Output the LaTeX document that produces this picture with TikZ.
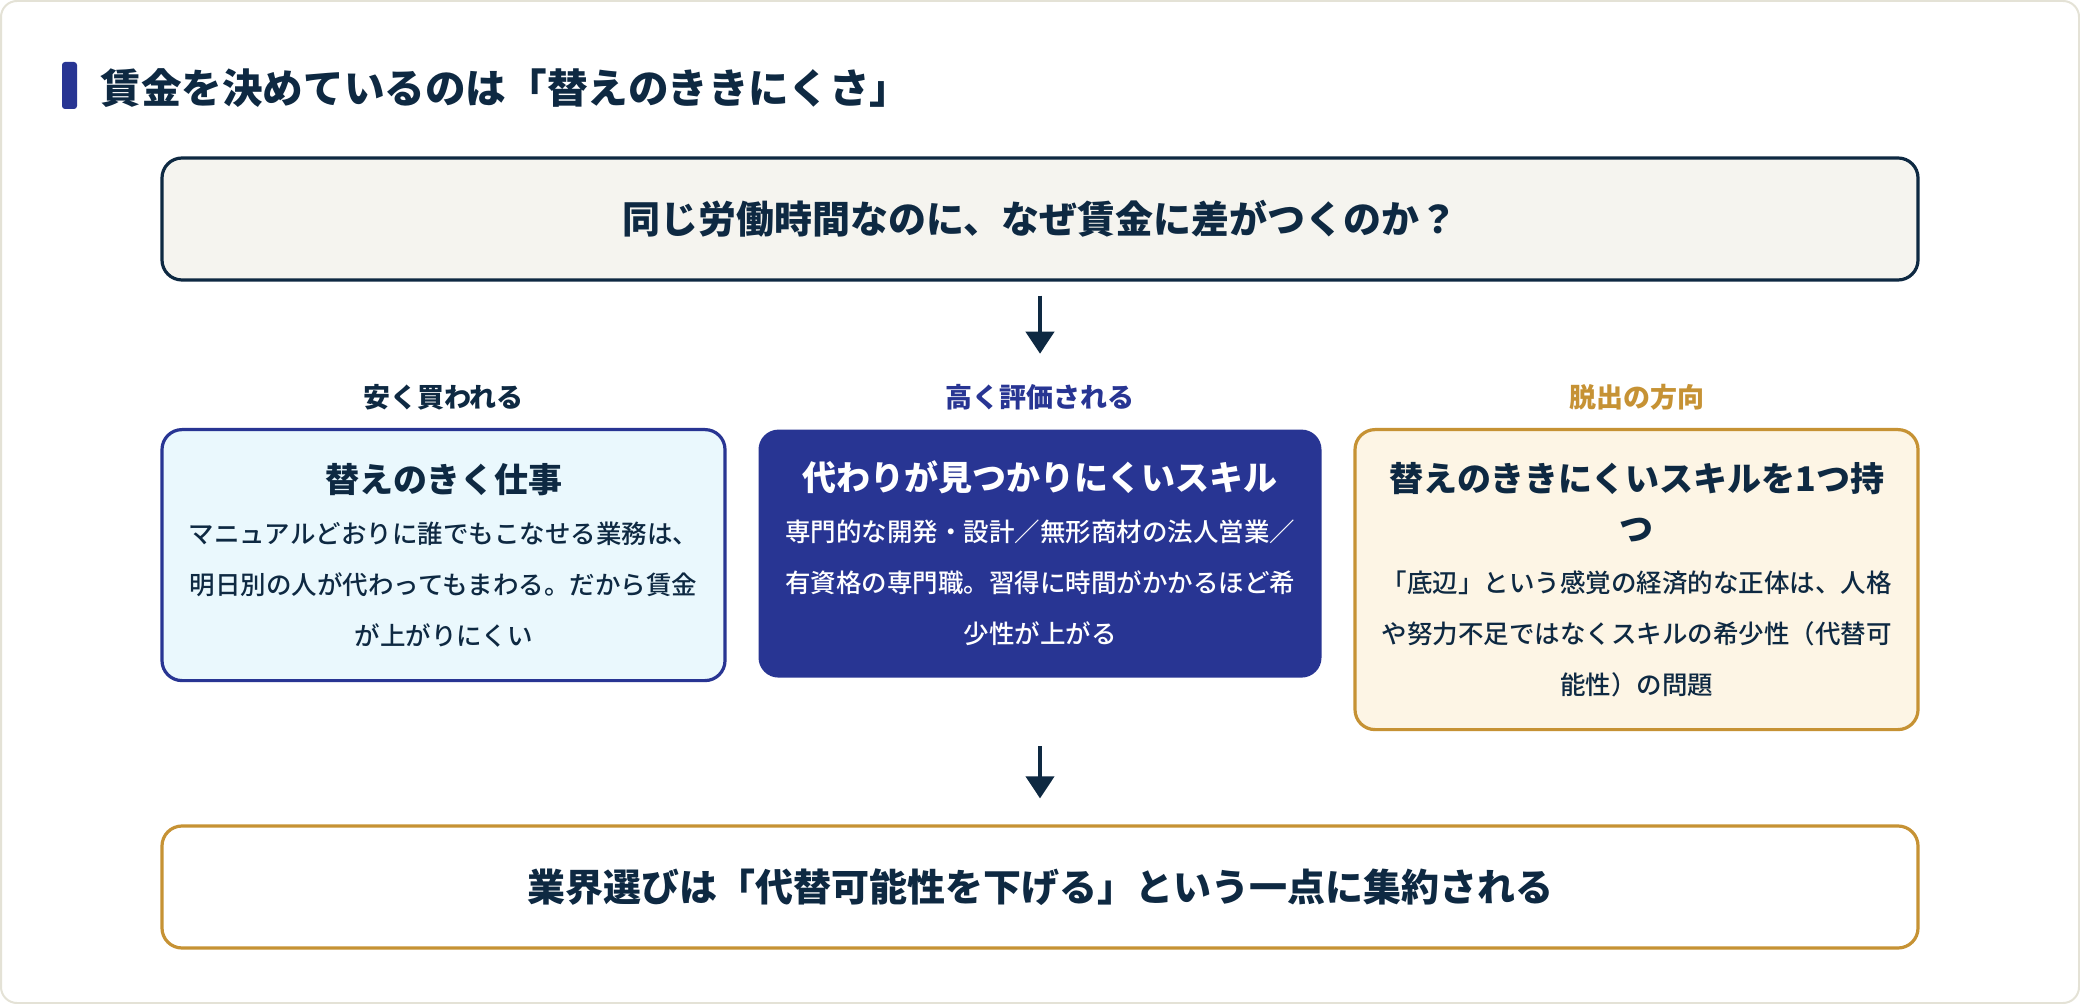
\documentclass[tikz,border=0pt]{standalone}
\usepackage{fontspec}
\setmainfont{Noto Sans CJK JP}
\newfontfamily\medfont{Noto Sans CJK JP Medium}
\usetikzlibrary{arrows.meta}

\definecolor{inknavy}{RGB}{14,41,66}
\definecolor{deepblue}{RGB}{40,53,147}
\definecolor{gold}{RGB}{198,146,52}
\definecolor{skyfill}{RGB}{234,248,253}
\definecolor{creamfill}{RGB}{253,245,229}
\definecolor{paperfill}{RGB}{245,244,239}
\definecolor{framegray}{RGB}{228,226,214}

\newcommand\cardhead{\fontsize{17pt}{25pt}\selectfont\bfseries}

\begin{document}
\begin{tikzpicture}[x=0.5pt, y=-0.5pt, line cap=round, line join=round,
	>={Triangle[length=11pt,width=14pt]},
	wide/.style={rounded corners=10pt, line width=1.6pt, minimum width=878pt, minimum height=61pt,
		font=\fontsize{19pt}{23pt}\selectfont\bfseries, text=inknavy},
	card/.style={rounded corners=10pt, line width=1.6pt, anchor=north, minimum width=281.5pt,
		text width=272pt, align=center, inner sep=0pt, text=inknavy,
		font=\medfont\fontsize{12.75pt}{25.5pt}\selectfont},
	tag/.style={font=\fontsize{13.5pt}{16pt}\selectfont\bfseries, inner sep=0pt},
	flow/.style={->, draw=inknavy, line width=2pt, line cap=butt}]
	
	\useasboundingbox (0,0) rectangle (2080,1004);
	
	% 外枠
	\draw[framegray, line width=1pt, fill=white, rounded corners=8pt] (1,1) rectangle (2079,1003);
	
	% 見出し
	\fill[deepblue, rounded corners=1.5pt] (62,62) rectangle (77,109);
	\node[anchor=west, inner sep=0pt, text=inknavy, font=\fontsize{20.3pt}{24pt}\selectfont\bfseries]
		(title) at (100,88) {賃金を決めているのは「替えのききにくさ」};
	
	% 問い
	\node[wide, draw=inknavy, fill=paperfill] (question) at (1040,219)
		{同じ労働時間なのに、なぜ賃金に差がつくのか？};
	
	% 見出しラベル
	\node[tag, text=inknavy] (cheapTag) at (443.5,397) {安く買われる};
	\node[tag, text=deepblue] (valueTag) at (1040,397) {高く評価される};
	\node[tag, text=gold] (exitTag) at (1636.5,397) {脱出の方向};
	
	% 3つのカード
	\node[card, draw=deepblue, fill=skyfill, minimum height=125.5pt] (cheapCard) at (443.5,428)
		{{\cardhead 替えのきく仕事\par}
		マニュアルどおりに誰でもこなせる業務は、\\
		明日別の人が代わってもまわる。だから賃金\\
		が上がりにくい};
	\node[card, draw=none, fill=deepblue, text=white, minimum height=124pt] (valueCard) at (1040,428)
		{{\cardhead 代わりが見つかりにくいスキル\par}
		専門的な開発・設計／無形商材の法人営業／\\
		有資格の専門職。習得に時間がかかるほど希\\
		少性が上がる};
	\node[card, draw=gold, fill=creamfill, minimum height=150pt] (exitCard) at (1636.5,428)
		{{\cardhead 替えのききにくいスキルを1つ持\\つ\par}
		「底辺」という感覚の経済的な正体は、人格\\
		や努力不足ではなくスキルの希少性（代替可\\
		能性）の問題};
	
	% 結論
	\node[wide, draw=gold, fill=white] (result) at (1040,887)
		{業界選びは「代替可能性を下げる」という一点に集約される};
	
	% 矢印
	\draw[flow, shorten <=7pt, shorten >=15pt] (question.south) -- (valueTag.north);
	\draw[flow, shorten <=7.5pt, shorten >=13pt] (valueCard.south |- exitCard.south) -- (result.north);
	
\end{tikzpicture}
\end{document}
